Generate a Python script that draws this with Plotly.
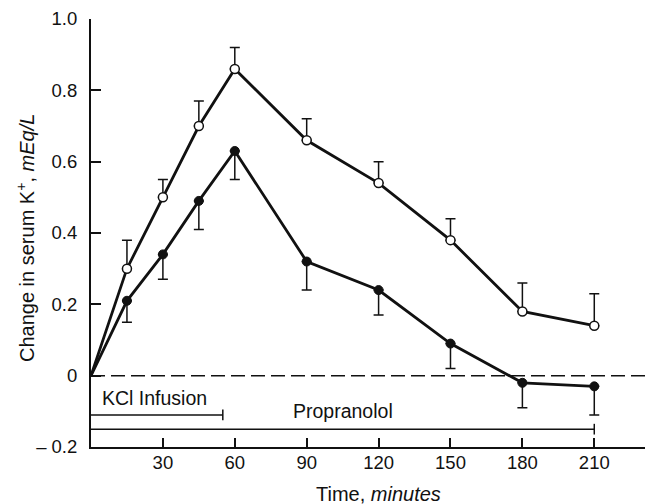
import plotly.graph_objects as go

# ---- data ----
times = [0, 15, 30, 45, 60, 90, 120, 150, 180, 210]
kcl_only = [0, 0.30, 0.50, 0.70, 0.86, 0.66, 0.54, 0.38, 0.18, 0.14]
kcl_only_err_up = [0, 0.08, 0.05, 0.07, 0.06, 0.06, 0.06, 0.06, 0.08, 0.09]
kcl_prop = [0, 0.21, 0.34, 0.49, 0.63, 0.32, 0.24, 0.09, -0.02, -0.03]
kcl_prop_err_down = [0, 0.06, 0.07, 0.08, 0.08, 0.08, 0.07, 0.07, 0.07, 0.08]

x_ticks = [30, 60, 90, 120, 150, 180, 210]
y_ticks = [-0.2, 0, 0.2, 0.4, 0.6, 0.8, 1.0]
y_tick_text = ["\u2013 0.2", "0", "0.2", "0.4", "0.6", "0.8", "1.0"]

kcl_span = [0, 55]
kcl_level = -0.11
prop_span = [0, 210]
prop_level = -0.15

X_MAX = 234.5
FONT = "Liberation Sans, Arial, sans-serif"
INK = "#111111"

# page body has an 8px margin; figure is sized/offset to compensate
PAGE = 8
W, H = 653 - PAGE, 504 - PAGE
PL, PT = 91, 19          # plot-area left / top in window pixels
PR, PB = 653, 447        # plot-area right / bottom in window pixels
PW, PH = PR - PL, PB - PT

fig = go.Figure()

# zero dashed line
fig.add_trace(go.Scatter(x=[0, X_MAX], y=[0, 0], mode="lines",
                         line=dict(color=INK, width=1.5, dash="14px,6px"),
                         hoverinfo="skip", showlegend=False, cliponaxis=False))

# treatment bars
fig.add_trace(go.Scatter(x=kcl_span, y=[kcl_level, kcl_level], mode="lines",
                         line=dict(color=INK, width=1.5), showlegend=False))
fig.add_trace(go.Scatter(x=[kcl_span[1], kcl_span[1]], y=[kcl_level - 0.015, kcl_level + 0.015],
                         mode="lines", line=dict(color=INK, width=1.5), showlegend=False))
fig.add_trace(go.Scatter(x=prop_span, y=[prop_level, prop_level], mode="lines",
                         line=dict(color=INK, width=1.5), showlegend=False))
fig.add_trace(go.Scatter(x=[prop_span[1], prop_span[1]], y=[prop_level - 0.015, prop_level + 0.015],
                         mode="lines", line=dict(color=INK, width=1.5), showlegend=False))

# connecting lines (start at the origin)
for ys in (kcl_prop, kcl_only):
    fig.add_trace(go.Scatter(x=times, y=ys, mode="lines",
                             line=dict(color=INK, width=2.8),
                             showlegend=False, cliponaxis=False))

# KCl + propranolol (filled markers, downward SE bars)
fig.add_trace(go.Scatter(
    x=times[1:], y=kcl_prop[1:], mode="markers",
    marker=dict(symbol="circle", size=9, color=INK, line=dict(color=INK, width=1)),
    error_y=dict(type="data", symmetric=False,
                 array=[0] * (len(times) - 1), arrayminus=kcl_prop_err_down[1:],
                 color=INK, thickness=1.5, width=5),
    showlegend=False, cliponaxis=False))

# KCl alone (open markers, upward SE bars)
fig.add_trace(go.Scatter(
    x=times[1:], y=kcl_only[1:], mode="markers",
    marker=dict(symbol="circle", size=9, color="white", line=dict(color=INK, width=1.5)),
    error_y=dict(type="data", symmetric=False,
                 array=kcl_only_err_up[1:], arrayminus=[0] * (len(times) - 1),
                 color=INK, thickness=1.5, width=5),
    showlegend=False, cliponaxis=False))

annotations = [
    dict(x=3.8, y=-0.064, xref="x", yref="y", text="KCl Infusion", showarrow=False,
         xanchor="left", yanchor="middle", font=dict(size=19.5, color=INK, family=FONT)),
    dict(x=105, y=-0.10, xref="x", yref="y", text="Propranolol", showarrow=False,
         xanchor="center", yanchor="middle", font=dict(size=19.5, color=INK, family=FONT)),
    dict(x=(378 - PL) / PW, y=-(494 - PB) / PH, xref="paper", yref="paper",
         text="Time, <i>minutes</i>", showarrow=False, xanchor="center", yanchor="middle",
         font=dict(size=20, color=INK, family=FONT)),
    dict(x=-(PL - 25) / PW, y=(PB - 238) / PH, xref="paper", yref="paper",
         text="Change in serum K<sup>+</sup>, <i>mEq/L</i>", showarrow=False, textangle=-90,
         xanchor="center", yanchor="middle", font=dict(size=20, color=INK, family=FONT)),
]

fig.update_layout(
    width=W, height=H,
    margin=dict(l=PL - PAGE, r=0, t=PT - PAGE, b=504 - PB),
    paper_bgcolor="white", plot_bgcolor="white",
    font=dict(family=FONT, size=18.5, color=INK),
    annotations=annotations,
    xaxis=dict(range=[0, X_MAX], tickvals=x_ticks, ticks="inside", ticklen=9,
               tickwidth=1.5, tickcolor=INK, showline=True, linecolor=INK, linewidth=2,
               showgrid=False, zeroline=False, ticklabelstandoff=-2,
               tickfont=dict(size=18.5, color=INK, family=FONT)),
    yaxis=dict(range=[-0.2, 1.0], tickvals=y_ticks, ticktext=y_tick_text, ticks="inside",
               ticklen=10, tickwidth=1.5, tickcolor=INK, showline=True, linecolor=INK,
               linewidth=2, showgrid=False, zeroline=False, ticklabelstandoff=8,
               tickfont=dict(size=18.5, color=INK, family=FONT)),
)

fig.write_html("out.html")
